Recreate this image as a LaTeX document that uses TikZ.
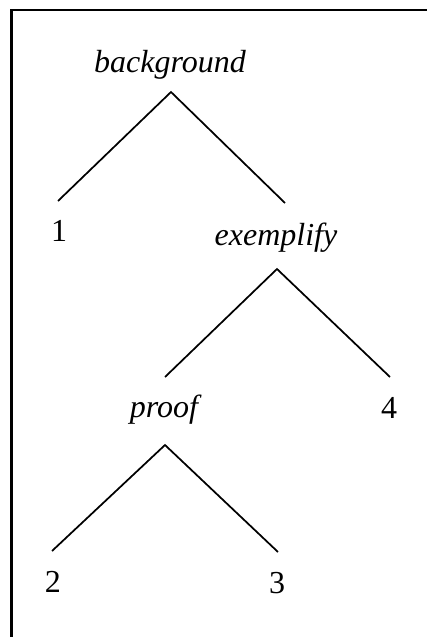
\documentclass[tikz,border=0pt]{standalone}
\usepackage{fontspec}
\setmainfont{Liberation Serif}
\begin{document}
\begin{tikzpicture}[x=0.75pt,y=-0.75pt,
  lbl/.style={inner sep=0pt,anchor=base,font=\fontsize{24}{28}\selectfont},
  edge/.style={line width=1.3pt},
  frame/.style={line width=1.6pt,draw=black}]
\useasboundingbox (0,0) rectangle (427,637);
\draw[frame] (11.5,637) -- (11.5,10) -- (427,10);
% labels
\node[lbl] (bg) at (170,72) {\itshape background};
\node[lbl] (one) at (59,241) {1};
\node[lbl] (ex) at (276,245) {\itshape exemplify};
\node[lbl] (pr) at (164,417) {\itshape proof};
\node[lbl] (four) at (389,418) {4};
\node[lbl] (two) at (53,592) {2};
\node[lbl] (three) at (277,593) {3};
% tree points
\coordinate (bgTop) at (171,92);
\coordinate (oneTop) at (58,201);
\coordinate (exUp) at (285,203);
\coordinate (exTop) at (277,269);
\coordinate (prUp) at (165,377);
\coordinate (fourTop) at (390,377);
\coordinate (prTop) at (165,445);
\coordinate (twoTop) at (52,551);
\coordinate (threeTop) at (278,552);
\draw[edge] (oneTop) -- (bgTop) -- (exUp);
\draw[edge] (prUp) -- (exTop) -- (fourTop);
\draw[edge] (twoTop) -- (prTop) -- (threeTop);
\end{tikzpicture}
\end{document}
